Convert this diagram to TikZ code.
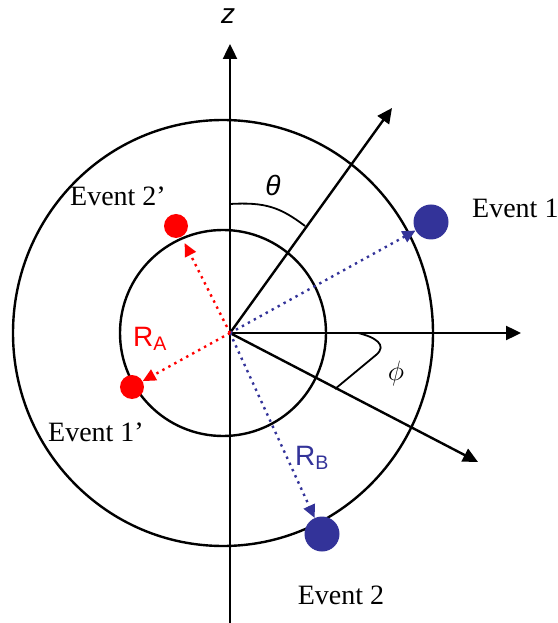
\RequirePackage{fix-cm}
\documentclass[tikz,border=0pt]{standalone}
\usepackage{fontspec}
\setmainfont{Liberation Serif}
\setsansfont{Liberation Sans}
\usetikzlibrary{arrows.meta}
\definecolor{ered}{HTML}{FF0000}
\definecolor{eblue}{HTML}{333399}
\tikzset{
  >=Latex,
  axis/.style={line width=2.4pt, -{Triangle[length=15pt,width=14pt]}},
  ring/.style={line width=2.4pt},
  angmark/.style={line width=1.8pt},
  dotA/.style={circle, fill=ered, minimum size=24pt, inner sep=0pt},
  dotB/.style={circle, fill=eblue, minimum size=35pt, inner sep=0pt},
  rvec/.style={draw=#1, line width=2.4pt, dash pattern=on 2.4pt off 4.4pt,
    -{Triangle[length=13pt,width=12pt,fill=#1]}},
  evlab/.style={font=\fontsize{28}{32}\selectfont\rmfamily},
  rlab/.style={font=\fontsize{28}{32}\selectfont\sffamily, text=#1},
  anglab/.style={font=\fontsize{28}{32}\selectfont}
}

\begin{document}
\begin{tikzpicture}[x=1pt,y=1pt]
  \useasboundingbox (-230,-290) rectangle (327,333);
  \coordinate (O) at (0,0);
  \coordinate (zbot) at (0,-290);
  \coordinate (ztop) at (0,289);
  \coordinate (xtip) at (291,0);
  \coordinate (rtip) at (162,225);
  \coordinate (ptip) at (248,-129);

  % shells
  \draw[ring] (-7,0) ellipse [x radius=210, y radius=213];
  \draw[ring] (-7,0) circle [radius=103];

  % axes
  \draw[axis] (zbot) -- (ztop);
  \draw[axis] (O) -- (xtip);
  \draw[axis] (O) -- (rtip);
  \draw[axis] (O) -- (ptip);
  \node[anglab, font=\fontsize{28}{32}\selectfont\sffamily\itshape] (zlab) at (-2,317) {z};

  % angles
  \draw[angmark] (0,129) .. controls (35,131) and (50,126) .. (75,107);
  \draw[angmark] (128,0) .. controls (145,-4) and (158,-12) .. (146,-22) -- (105,-56);
  \node[anglab, font=\fontsize{28}{32}\selectfont\sffamily\itshape] (thlab) at (43,148) {θ};
  \node[anglab] (phlab) at (166,-40) {$\phi$};

  % events
  \node[dotB] (ev1) at (201,111) {};
  \node[dotB] (ev2) at (92,-201) {};
  \node[dotA] (ev2p) at (-54,107) {};
  \node[dotA] (ev1p) at (-98,-54) {};

  \draw[rvec=eblue] (O) -- (ev1);
  \draw[rvec=eblue] (O) -- (ev2);
  \draw[rvec=ered, shorten >=7pt] (O) -- (ev2p);
  \draw[rvec=ered] (O) -- (ev1p);

  \node[evlab, anchor=west, inner sep=0pt] (l1) at (242,125) {Event 1};
  \node[evlab] (l2) at (111,-262) {Event 2};
  \node[evlab] (l2p) at (-112,137) {Event 2’};
  \node[evlab] (l1p) at (-134,-99) {Event 1’};
  \node[rlab=ered] (ra) at (-80,-6) {R\textsubscript{A}};
  \node[rlab=eblue] (rb) at (82,-125) {R\textsubscript{B}};
\end{tikzpicture}
\end{document}
